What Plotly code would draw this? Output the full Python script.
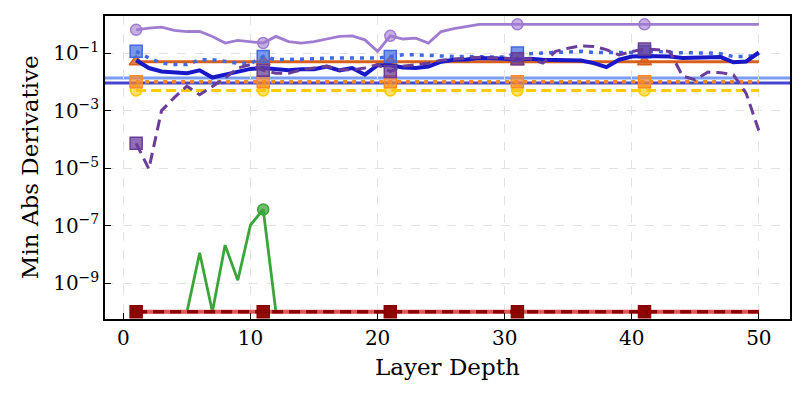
import plotly.graph_objects as go

layers = list(range(1, 51))

# log10 values
purple_light_log = [-0.19, -0.13, -0.10, -0.21, -0.25, -0.25, -0.42, -0.65, -0.56, -0.60,
                    -0.65, -0.42, -0.60, -0.65, -0.60, -0.51, -0.42, -0.40, -0.54, -0.94,
                    -0.40, -0.51, -0.48, -0.65, -0.25, -0.15, -0.08, 0.0, 0.0, 0.0,
                    0.0, 0.0, 0.0, 0.0, 0.0, 0.0, 0.0, 0.0, 0.0, 0.0,
                    0.0, 0.0, 0.0, 0.0, 0.0, 0.0, 0.0, 0.0, 0.0, 0.0]
purple_dash_log = [-4.14, -5.03, -3.00, -2.55, -2.15, -2.45, -2.16, -1.87, -1.52, -1.40,
                   -1.60, -1.70, -1.70, -1.58, -1.52, -1.46, -1.58, -1.58, -1.52, -1.40,
                   -1.64, -1.46, -1.40, -1.35, -1.25, -1.20, -1.17, -1.15, -1.17, -1.20,
                   -1.20, -1.20, -1.35, -0.94, -0.83, -0.75, -0.77, -0.88, -1.06, -0.95,
                   -0.86, -0.88, -0.95, -1.80, -1.93, -1.66, -1.68, -1.76, -2.40, -3.70]
blue_thick_log = [-1.25, -1.52, -1.64, -1.68, -1.70, -1.60, -1.85, -1.75, -1.66, -1.55,
                  -1.52, -1.55, -1.60, -1.56, -1.56, -1.47, -1.60, -1.52, -1.75, -1.42,
                  -1.42, -1.50, -1.52, -1.47, -1.30, -1.23, -1.22, -1.17, -1.17, -1.20,
                  -1.23, -1.20, -1.23, -1.23, -1.23, -1.26, -1.35, -1.49, -1.23, -1.12,
                  -1.10, -1.10, -1.12, -1.17, -1.17, -1.17, -1.14, -1.32, -1.29, -0.98]
blue_dot_log = [-0.94, -1.17, -1.35, -1.40, -1.40, -1.23, -1.23, -1.29, -1.35, -1.37,
                -1.12, -1.23, -1.23, -1.23, -1.20, -1.17, -1.17, -1.17, -1.20, -1.17,
                -1.12, -1.06, -1.06, -1.09, -1.12, -1.12, -1.12, -1.12, -1.12, -1.14,
                -1.00, -1.02, -1.00, -0.98, -0.94, -0.94, -0.98, -0.98, -1.00, -0.98,
                -0.95, -0.94, -0.98, -0.98, -1.00, -1.00, -1.02, -1.12, -1.12, -1.06]
green_log = [-10, -10, -10, -10, -10, -7.95, -10, -7.68, -8.9, -6.98,
             -6.44, -10, -10, -10, -10, -10, -10, -10, -10, -10,
             -10, -10, -10, -10, -10, -10, -10, -10, -10, -10,
             -10, -10, -10, -10, -10, -10, -10, -10, -10, -10,
             -10, -10, -10, -10, -10, -10, -10, -10, -10, -10]

orange_solid_value = 0.05
orange_dot_value = 0.01
gold_value = 0.005
red_value = 1e-10
hline_light_value = 0.0135
hline_dark_value = 0.0091

y_tick_vals = [1e-9, 1e-7, 1e-5, 1e-3, 1e-1]
y_tick_text = ["10<sup>−9</sup>", "10<sup>−7</sup>", "10<sup>−5</sup>", "10<sup>−3</sup>", "10<sup>−1</sup>"]
x_tick_vals = [0, 10, 20, 30, 40, 50]
x_title = "Layer Depth"
y_title = "Min Abs Derivative"

purple_light = [10 ** v for v in purple_light_log]
purple_dash = [10 ** v for v in purple_dash_log]
blue_thick = [10 ** v for v in blue_thick_log]
blue_dot = [10 ** v for v in blue_dot_log]
green = [10 ** v for v in green_log]
orange_solid = [orange_solid_value] * len(layers)
orange_dot = [orange_dot_value] * len(layers)
gold = [gold_value] * len(layers)
red = [red_value] * len(layers)

fig = go.Figure()

def add_series(y, color, width, dash, symbol, fill, msize=11, mline=None):
    fig.add_trace(go.Scatter(x=layers, y=y, mode="lines",
                             line=dict(color=color, width=width, dash=dash),
                             showlegend=False, hoverinfo="skip"))
    if symbol is not None:
        fig.add_trace(go.Scatter(x=layers[::10], y=y[::10], mode="markers",
                                 marker=dict(symbol=symbol, size=msize, color=fill,
                                             line=dict(color=mline or color, width=1.5)),
                                 showlegend=False, hoverinfo="skip"))

fig.add_hline(y=hline_light_value, line=dict(color="#7b9cf0", width=3), layer="below")
fig.add_hline(y=hline_dark_value, line=dict(color="#4646cc", width=3), layer="below")

add_series(green, "#3aa53a", 2.8, "solid", "circle", "rgba(58,165,58,0.75)")
add_series(gold, "#ffcc00", 3, "10px,5px", "circle", "rgba(255,204,0,0.6)", mline="#ffcc00")
add_series(orange_dot, "#ff8a24", 3.5, "4px,5px", "square", "rgba(255,138,36,0.7)", msize=12)
add_series(orange_solid, "#d9601a", 2.8, "solid", "triangle-up", "rgba(217,96,26,0.8)", msize=12)
add_series(blue_dot, "#4169e1", 3.5, "4px,6px", "square", "rgba(65,105,225,0.7)", msize=12)
add_series(blue_thick, "#1818c8", 4, "solid", None, None)
add_series(purple_dash, "#6a3d9a", 3, "11px,6px", "square", "rgba(106,61,154,0.75)", msize=12)
add_series(purple_light, "#a07cd0", 2.8, "solid", "circle", "rgba(160,124,208,0.6)")
fig.add_trace(go.Scatter(x=layers, y=red, mode="lines",
                         line=dict(color="#e05a5a", width=4),
                         showlegend=False, hoverinfo="skip"))
add_series(red, "#8b0000", 3.5, "11px,6px", "square", "rgba(139,0,0,0.95)", msize=12)

# the page body has an 8px margin, so the figure is sized to fit inside it
font_family = "DejaVu Serif"
fig.update_layout(
    width=791, height=380,
    margin=dict(l=97, r=9, t=8, b=69),
    paper_bgcolor="white", plot_bgcolor="white",
    font=dict(family=font_family, size=20, color="black"),
    showlegend=False,
)
fig.update_xaxes(
    range=[-1.45, 52.45], tickvals=x_tick_vals, automargin=False,
    showline=True, mirror=True, linecolor="black", linewidth=1.5,
    ticks="inside", ticklen=6, tickwidth=1.2, tickcolor="black",
    showgrid=True, gridcolor="#e2e2e2", gridwidth=1, griddash="dash",
    zeroline=False, tickfont=dict(size=20),
)
fig.update_yaxes(
    type="log", range=[-10.25, 0.29], tickvals=y_tick_vals, ticktext=y_tick_text,
    automargin=False,
    showline=True, mirror=True, linecolor="black", linewidth=1.5,
    ticks="inside", ticklen=6, tickwidth=1.2, tickcolor="black",
    showgrid=True, gridcolor="#e2e2e2", gridwidth=1, griddash="dash",
    zeroline=False, tickfont=dict(size=20),
)
fig.add_annotation(text=x_title, xref="paper", yref="paper", x=0.5, y=-0.158,
                   xanchor="center", yanchor="middle", showarrow=False,
                   font=dict(size=23))
fig.add_annotation(text=y_title, xref="paper", yref="paper", x=-0.11, y=0.5,
                   xanchor="center", yanchor="middle", textangle=-90, showarrow=False,
                   font=dict(size=23))

fig.write_html("out.html")
